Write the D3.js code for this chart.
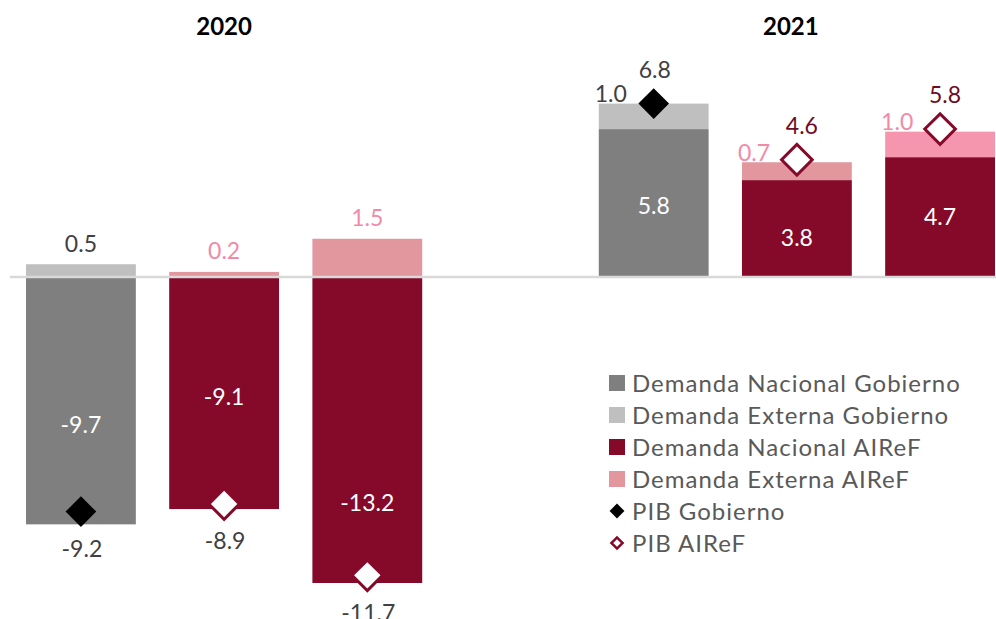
<!DOCTYPE html>
<html>
<head>
<meta charset="utf-8">
<script src="https://cdn.jsdelivr.net/npm/d3@7"></script>
<style>
  html, body { margin: 0; padding: 0; background: #fff; }
  svg { display: block; font-family: Lato, "Open Sans", sans-serif; }
</style>
</head>
<body>
<div id="chart"></div>
<script>
// slots along the x axis ("" is the empty gap between years)
const slots = ["2020 Gobierno", "2020 AIReF A", "2020 AIReF B", "", "2021 Gobierno", "2021 AIReF A", "2021 AIReF B"];
const years = ["2020", "2020", "2020", "2021", "2021", "2021"];
const sources = ["Gobierno", "AIReF", "AIReF", "Gobierno", "AIReF", "AIReF"];
const barSlots = ["2020 Gobierno", "2020 AIReF A", "2020 AIReF B", "2021 Gobierno", "2021 AIReF A", "2021 AIReF B"];
const demandaNacional = [-9.7, -9.1, -13.2, 5.8, 3.8, 4.7];
const demandaExterna = [0.5, 0.2, 1.5, 1.0, 0.7, 1.0];
const pib = [-9.2, -8.9, -11.7, 6.8, 4.6, 5.8];
const yearTitles = ["2020", "2021"];
const legendLabels = ["Demanda Nacional Gobierno", "Demanda Externa Gobierno", "Demanda Nacional AIReF",
    "Demanda Externa AIReF", "PIB Gobierno", "PIB AIReF"];

const width = 996, height = 619;
const grey = "#7f7f7f", lightGrey = "#bfbfbf", wine = "#850a2a", rose = "#e2979f", hotRose = "#f596ae";
const textGrey = "#404040", labelPink = "#f28aa7", wineText = "#6e0b26";

// external colour per bar (the last AIReF 2021 bar was drawn with a brighter pink)
const extColor = [lightGrey, rose, rose, lightGrey, rose, hotRose];
const natColor = i => sources[i] === "Gobierno" ? grey : wine;
// hand placed nudges of the inner labels, in pixels (as in the original)
const innerNudge = [24, 4, 73, 3, 9, 0];

const svg = d3.select("#chart").append("svg")
    .attr("width", width)
    .attr("height", height)
    .attr("viewBox", [0, 0, width, height]);

const x = d3.scaleBand(slots, [26, 995]).paddingInner(0.233).paddingOuter(0);
const y = d3.scaleLinear([-12, 8], [583, 73]).clamp(true);
const bw = x.bandwidth();
const I = d3.range(barSlots.length);

// stacked segments
const natTop = i => Math.max(0, demandaNacional[i]);
const natBot = i => Math.min(0, demandaNacional[i]);
const extBase = i => demandaNacional[i] < 0 ? 0 : demandaNacional[i];

svg.append("g").selectAll("rect")
    .data(I)
    .join("rect")
    .attr("x", i => x(barSlots[i]))
    .attr("y", i => y(natTop(i)))
    .attr("width", bw)
    .attr("height", i => y(natBot(i)) - y(natTop(i)))
    .attr("fill", natColor);

svg.append("g").selectAll("rect")
    .data(I)
    .join("rect")
    .attr("x", i => x(barSlots[i]))
    .attr("y", i => y(extBase(i) + demandaExterna[i]))
    .attr("width", bw)
    .attr("height", i => y(extBase(i)) - y(extBase(i) + demandaExterna[i]))
    .attr("fill", i => extColor[i]);

// zero line, drawn over the bars
svg.append("line")
    .attr("x1", 10).attr("x2", width)
    .attr("y1", y(0)).attr("y2", y(0))
    .attr("stroke", "#d9d9d9")
    .attr("stroke-width", 2.5);

// year titles above the middle bar of each group
svg.append("g")
    .attr("font-weight", "bold")
    .attr("font-size", 24)
    .attr("fill", "#000")
    .attr("text-anchor", "middle")
    .selectAll("text")
    .data(yearTitles)
    .join("text")
    .attr("x", (d, k) => x(barSlots[k * 3 + 1]) + bw / 2 - k * 6)
    .attr("y", 35)
    .text(d => d);

const fmt = d3.formatLocale({decimal: ".", thousands: ",", grouping: [3], currency: ["", ""], minus: "-"}).format(".1f");

// inner labels (demanda nacional)
svg.append("g")
    .attr("font-size", 23)
    .attr("fill", "#fff")
    .attr("text-anchor", "middle")
    .selectAll("text")
    .data(I)
    .join("text")
    .attr("x", i => x(barSlots[i]) + bw / 2)
    .attr("y", i => (y(natTop(i)) + y(natBot(i))) / 2 + innerNudge[i])
    .attr("dy", "0.36em")
    .text(i => fmt(demandaNacional[i]));

// external labels: above the bar in 2020, to the upper left in 2021
svg.append("g")
    .attr("font-size", 23)
    .attr("text-anchor", "middle")
    .selectAll("text")
    .data(I)
    .join("text")
    .attr("x", i => years[i] === "2020" ? x(barSlots[i]) + bw / 2 : x(barSlots[i]) + 12)
    .attr("y", i => y(extBase(i) + demandaExterna[i]) + (years[i] === "2020" ? -21 : -10))
    .attr("dy", "0.36em")
    .attr("fill", i => sources[i] === "Gobierno" ? textGrey : labelPink)
    .text(i => fmt(demandaExterna[i]));

// PIB diamonds
const diamond = d3.symbol(d3.symbolSquare, 470);
svg.append("g")
    .selectAll("path")
    .data(I)
    .join("path")
    .attr("transform", i => `translate(${x(barSlots[i]) + bw / 2},${y(pib[i])}) rotate(45)`)
    .attr("d", diamond)
    .attr("fill", i => sources[i] === "Gobierno" ? "#000" : "#fff")
    .attr("stroke", i => sources[i] === "Gobierno" ? "none" : wine)
    .attr("stroke-width", 3);

// PIB labels: below when negative, above when positive
svg.append("g")
    .attr("font-size", 23)
    .attr("text-anchor", "middle")
    .selectAll("text")
    .data(I)
    .join("text")
    .attr("x", i => x(barSlots[i]) + bw / 2 + (pib[i] > 0 && sources[i] === "AIReF" ? 5 : 1))
    .attr("y", i => y(pib[i]) + (pib[i] < 0 ? 37 : -34))
    .attr("dy", "0.36em")
    .attr("fill", i => pib[i] > 0 && sources[i] === "AIReF" ? wineText : textGrey)
    .text(i => fmt(pib[i]));

// legend
const legendColors = [grey, lightGrey, wine, rose];
const legend = svg.append("g")
    .attr("transform", "translate(609,383)")
    .attr("font-size", 24)
    .attr("letter-spacing", 1)
    .attr("fill", "#595959");

const row = legend.selectAll("g")
    .data(legendLabels)
    .join("g")
    .attr("transform", (d, k) => `translate(0,${k * 32})`);

row.filter((d, k) => k < 4).append("rect")
    .attr("x", 0).attr("y", -8)
    .attr("width", 16).attr("height", 16)
    .attr("fill", (d, k) => legendColors[k]);

row.filter((d, k) => k >= 4).append("path")
    .attr("transform", "translate(8,0) rotate(45)")
    .attr("d", (d, k) => d3.symbol(d3.symbolSquare, k === 0 ? 110 : 62)())
    .attr("fill", (d, k) => k === 0 ? "#000" : "#fff")
    .attr("stroke", (d, k) => k === 0 ? "none" : wine)
    .attr("stroke-width", 2.5);

row.append("text")
    .attr("x", 23)
    .attr("dy", "0.36em")
    .text(d => d);
</script>
</body>
</html>
